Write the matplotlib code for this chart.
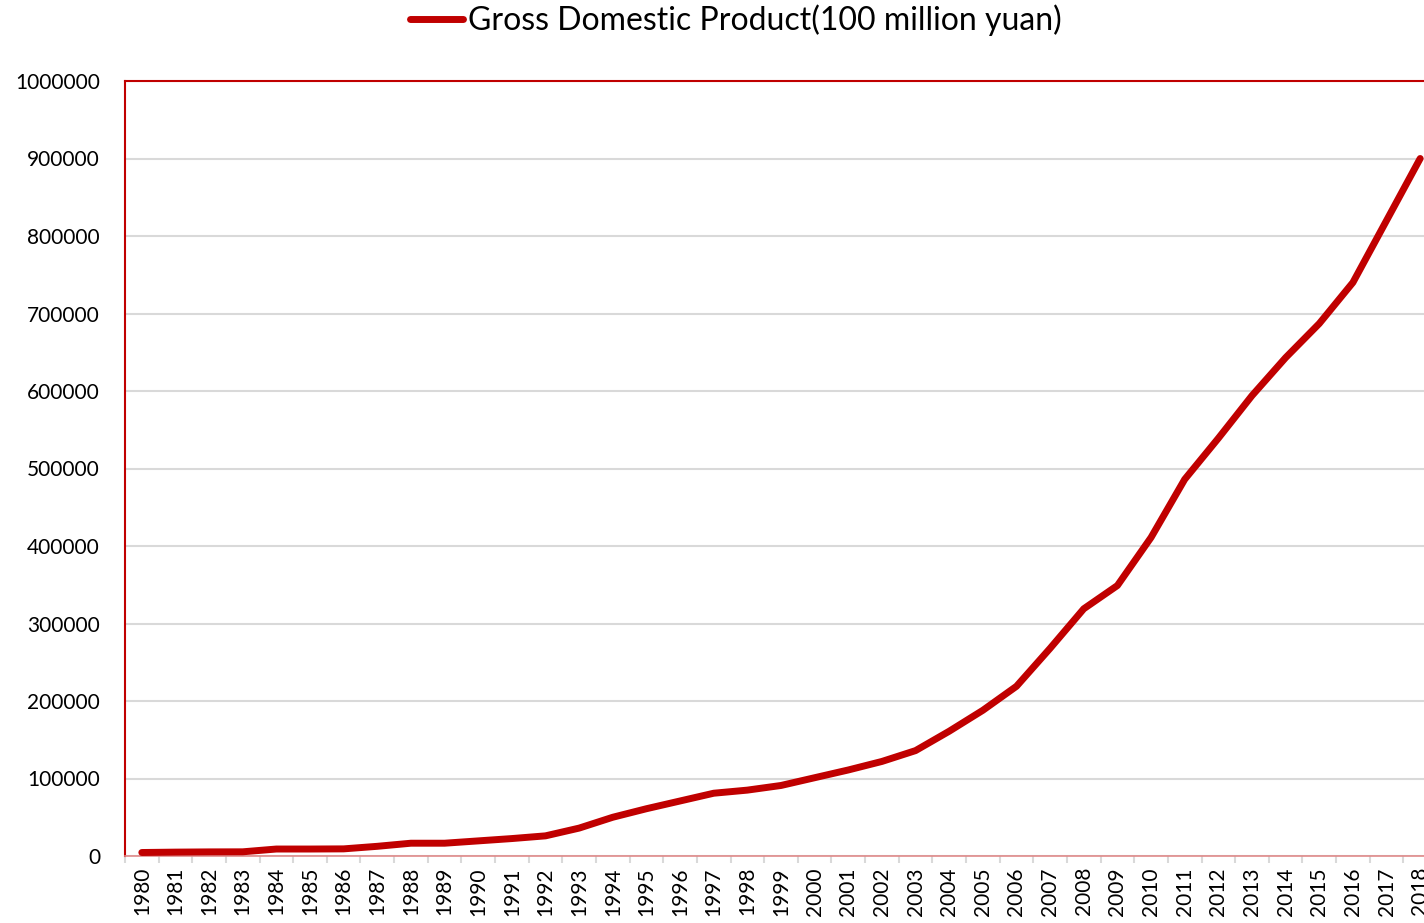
import numpy as np
import matplotlib as mpl
from matplotlib import pyplot as plt
from matplotlib.ticker import FixedLocator

years = [str(y) for y in range(1980, 2019)]
gdp = [
    4500, 5000, 5300, 5400, 9000, 9000, 9200, 12500, 16500, 16500,
    19500, 22500, 26000, 36000, 50000, 61000, 71000, 81000, 85000, 91000,
    101000, 111000, 122000, 136000, 161000, 188000, 219000, 268000, 319000, 349000,
    411000, 486000, 539000, 594000, 643000, 687000, 740000, 820000, 900000,
]
series_label = "Gross Domestic Product(100 million yuan)"
yticks = list(range(0, 1000001, 100000))

RED = "#C00000"

mpl.rcParams["font.family"] = ["Lato", "DejaVu Sans"]

fig = plt.figure(figsize=(14.24, 9.23), dpi=100)
ax = fig.add_axes([125 / 1424, 67 / 923, (1437 - 125) / 1424, (856 - 81) / 923])

x = np.arange(len(years))
(line,) = ax.plot(x, gdp, color=RED, linewidth=5, solid_capstyle="round",
                  solid_joinstyle="round", zorder=3, label=series_label)

ax.set_xlim(-0.5, len(years) - 0.5)
ax.set_ylim(0, 1000000)
ax.set_yticks(yticks)
ax.set_yticklabels([str(v) for v in yticks], fontsize=15)
ax.set_xticks(x)
ax.set_xticklabels(years, rotation=90, fontsize=15)
ax.xaxis.set_minor_locator(FixedLocator(np.arange(-0.5, len(years), 1.0)))
ax.tick_params(axis="x", which="major", length=0, pad=8)
ax.tick_params(axis="x", which="minor", length=5, width=1.5, color="#D9D9D9")
ax.tick_params(axis="y", length=0, pad=18)

ax.grid(axis="y", color="#D9D9D9", linewidth=1.5, zorder=0)
ax.set_axisbelow(True)

for side in ["left", "top"]:
    ax.spines[side].set_color(RED)
    ax.spines[side].set_linewidth(1.5)
ax.spines["bottom"].set_color("#E08A8A")
ax.spines["bottom"].set_linewidth(1.2)
ax.spines["right"].set_visible(False)

fig.legend(handles=[line], loc="center", bbox_to_anchor=(736 / 1424, 1 - 20 / 923),
           frameon=False, fontsize=23, handlelength=1.65, handletextpad=0.15)

fig.savefig("out.png", dpi=100)
